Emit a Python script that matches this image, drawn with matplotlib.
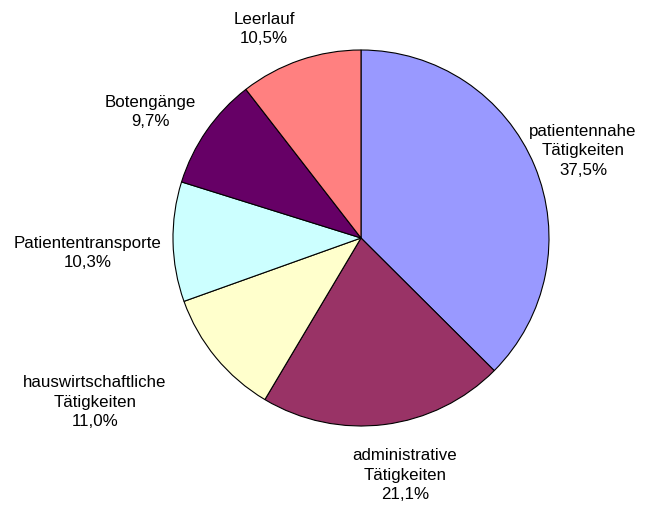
import numpy as np
import matplotlib.pyplot as plt

plt.rcParams['font.family'] = ['Liberation Sans', 'DejaVu Sans']

# data (clockwise from 12 o'clock)
categories = ["patientennahe\nTätigkeiten", "administrative\nTätigkeiten",
              "hauswirtschaftliche\nTätigkeiten", "Patiententransporte",
              "Botengänge", "Leerlauf"]
shares = [37.5, 21.1, 11.0, 10.3, 9.7, 10.5]
colors = ["#9999FF", "#993366", "#FFFFCC", "#CCFFFF", "#660066", "#FF8080"]

# label block centres in pixels (x, y from top)
label_px = [(583, 151), (405, 475), (95, 402), (88, 253), (150, 112), (264, 29)]

W, H = 653, 509
cx, cy, r = 361, 238, 188

fig = plt.figure(figsize=(W / 100, H / 100), dpi=100)
ax = fig.add_axes([0, 0, 1, 1])
ax.pie(shares, colors=colors, startangle=90, counterclock=False,
       wedgeprops=dict(edgecolor="black", linewidth=0.8))
ax.set_xlim(-cx / r, (W - cx) / r)
ax.set_ylim(-(H - cy) / r, cy / r)
ax.set_aspect("auto")
ax.axis("off")

for name, val, (px, py) in zip(categories, shares, label_px):
    txt = f"{name}\n{val:.1f}%".replace(".", ",")
    ax.text((px - cx) / r, (cy - py) / r, txt, ha="center", va="center",
            fontsize=12.2, linespacing=1.4, color="black")

fig.savefig("out.png", dpi=100, facecolor="white")
